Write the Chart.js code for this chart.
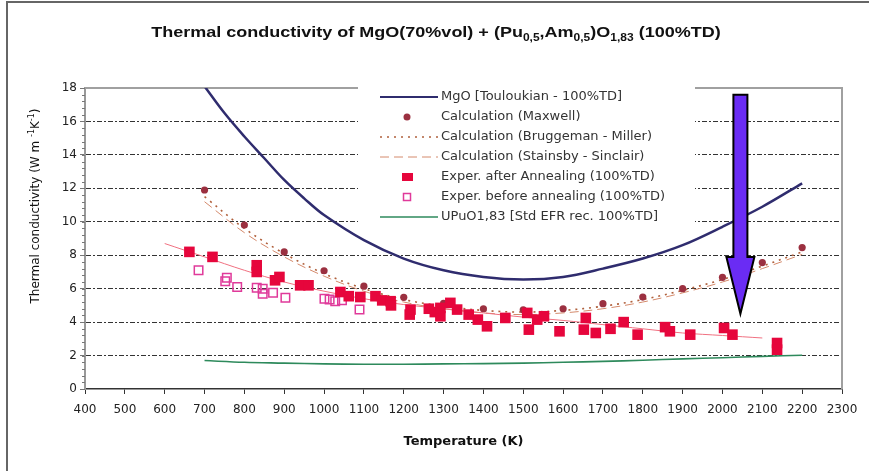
<!DOCTYPE html>
<html>
<head>
<meta charset="utf-8">
<script src="https://cdn.jsdelivr.net/npm/chart.js@4"></script>
<style>
  body { margin: 0; background: #fff; }
  #wrap { position: relative; width: 869px; height: 471px; overflow: hidden; }
  #frame { position: absolute; left: 6px; top: 1px; width: 900px; height: 500px; border-left: 2px solid #666; border-top: 2px solid #666; }
  #title { position: absolute; left: 436px; top: 23px; transform: translateX(-50%) scaleX(1.2); white-space: nowrap; font: bold 15px "Liberation Sans", Arial, sans-serif; color: #111; }
  #title sub { font-size: 10px; }
  #ytitle { position: absolute; left: 34px; top: 206px; transform: translate(-50%, -50%) rotate(-90deg); white-space: nowrap; font: 12px "DejaVu Sans"; color: #111; }
  #ytitle sup { font-size: 8px; }
  canvas { position: absolute; left: 0; top: 0; }
</style>
</head>
<body>
<div id="wrap">
  <canvas id="c" width="869" height="471"></canvas>
  <div id="frame"></div>
  <div id="title">Thermal conductivity of MgO(70%vol) + (Pu<sub>0,5</sub>,Am<sub>0,5</sub>)O<sub>1,83</sub> (100%TD)</div>
  <div id="ytitle">Thermal conductivity (W m <sup>-1</sup>K<sup>-1</sup>)</div>
</div>
<script>
// MgO [Touloukian]
const mgoT = [700, 750, 800, 850, 900, 950, 1000, 1100, 1200, 1300, 1400, 1500, 1600, 1700, 1800, 1900, 2000, 2100, 2200];
const mgoK = [18.1, 16.5, 15.1, 13.8, 12.5, 11.4, 10.4, 8.9, 7.8, 7.1, 6.7, 6.55, 6.7, 7.2, 7.8, 8.6, 9.7, 10.9, 12.3];

// calculations, every 100 K
const calcT = [700, 800, 900, 1000, 1100, 1200, 1300, 1400, 1500, 1600, 1700, 1800, 1900, 2000, 2100, 2200];
const maxwellK = [11.9, 9.8, 8.2, 7.07, 6.15, 5.48, 5.12, 4.8, 4.74, 4.8, 5.1, 5.5, 6.0, 6.68, 7.56, 8.46];
const bruggemanK = [11.5, 9.6, 8.1, 6.9, 6.0, 5.35, 4.95, 4.7, 4.6, 4.7, 4.95, 5.35, 5.9, 6.55, 7.35, 8.2];
const stainsbyK = [11.2, 9.35, 7.9, 6.75, 5.85, 5.2, 4.8, 4.55, 4.45, 4.55, 4.8, 5.2, 5.75, 6.4, 7.2, 8.05];

// experiment after annealing
const afterT = [662, 720, 831, 831, 877, 888, 940, 961, 1041, 1062, 1091, 1129, 1146, 1167, 1168, 1215, 1217, 1263, 1278, 1292, 1292, 1317, 1334, 1363, 1386, 1409, 1455, 1510, 1514, 1535, 1552, 1591, 1652, 1657, 1682, 1719, 1752, 1787, 1856, 1868, 1919, 2004, 2025, 2137, 2137];
const afterK = [8.2, 7.9, 7.4, 7.0, 6.5, 6.7, 6.2, 6.2, 5.8, 5.55, 5.5, 5.55, 5.3, 5.25, 5.0, 4.45, 4.75, 4.8, 4.6, 4.35, 4.85, 5.15, 4.75, 4.45, 4.15, 3.75, 4.25, 4.55, 3.55, 4.15, 4.35, 3.45, 3.55, 4.25, 3.35, 3.6, 4.0, 3.25, 3.7, 3.45, 3.25, 3.65, 3.25, 2.75, 2.35];

// trend line through the annealed data
const fitT = [600, 700, 800, 900, 1000, 1100, 1200, 1300, 1400, 1500, 1600, 1700, 1800, 1900, 2000, 2100];
const fitK = [8.7, 7.9, 7.1, 6.4, 5.85, 5.4, 5.05, 4.8, 4.55, 4.3, 4.1, 3.85, 3.6, 3.35, 3.2, 3.05];

// experiment before annealing
const beforeT = [685, 752, 756, 782, 831, 846, 846, 872, 903, 1001, 1014, 1028, 1045, 1089];
const beforeK = [7.1, 6.45, 6.65, 6.1, 6.05, 6.0, 5.7, 5.75, 5.45, 5.4, 5.35, 5.25, 5.3, 4.75];

// UPuO1,83
const upuoT = [700, 800, 900, 1000, 1100, 1200, 1300, 1400, 1500, 1600, 1700, 1800, 1900, 2000, 2100, 2200];
const upuoK = [1.7, 1.6, 1.55, 1.5, 1.48, 1.48, 1.5, 1.52, 1.55, 1.6, 1.65, 1.72, 1.8, 1.87, 1.95, 2.02];

// the arrow drawn over the chart (data units)
const arrowT = 2045, arrowTop = 17.6, arrowHead = 7.9, arrowTip = 4.5;

const pts = (xs, ys) => xs.map((x, i) => ({ x: x, y: ys[i] }));

const lineDs = (label, data, color, width, dash, order) => ({
  label, data, borderColor: color, borderWidth: width, borderDash: dash,
  pointRadius: 0, fill: false, tension: 0.35, order
});

const datasets = [
  lineDs('MgO [Touloukian - 100%TD]', pts(mgoT, mgoK), '#2f2c6e', 2.5, [], 5),
  { label: 'Calculation (Maxwell)', data: pts(calcT, maxwellK), showLine: false, pointStyle: 'circle',
    pointRadius: 3.6, pointBackgroundColor: '#9b3040', pointBorderColor: '#9b3040', pointBorderWidth: 0, order: 2 },
  lineDs('Calculation (Bruggeman - Miller)', pts(calcT, bruggemanK), '#b0603c', 1.6, [2, 5], 4),
  lineDs('Calculation (Stainsby - Sinclair)', pts(calcT, stainsbyK), '#d48a6c', 1, [9, 5], 4),
  { label: 'Exper. after Annealing (100%TD)', data: pts(afterT, afterK), showLine: false, pointStyle: 'rect',
    pointRadius: 7.5, pointBackgroundColor: '#e6063c', pointBorderColor: '#e6063c', pointBorderWidth: 0, order: 0 },
  { label: 'Exper. before annealing (100%TD)', data: pts(beforeT, beforeK), showLine: false, pointStyle: 'rect',
    pointRadius: 6, pointBackgroundColor: 'rgba(255,255,255,0)', pointBorderColor: '#e03a9a', pointBorderWidth: 1.5, order: 1 },
  lineDs('UPuO1,83 [Std EFR rec. 100%TD]', pts(upuoT, upuoK), '#2e8a5c', 1.6, [], 5),
  Object.assign(lineDs('fit', pts(fitT, fitK), '#f07080', 1, [], 3), { noLegend: true })
];

const legendBox = {
  id: 'legendBox',
  afterDraw(chart) {
    const ctx = chart.ctx;
    ctx.save();
    ctx.fillStyle = '#fff';
    ctx.fillRect(358, 82, 337, 146);
    let row = 0;
    chart.data.datasets.forEach(ds => {
      if (ds.noLegend) return;
      const y = 97 + row * 20;
      row++;
      if (ds.showLine === false) {
        const cx = 407;
        ctx.setLineDash([]);
        if (ds.pointStyle === 'circle') {
          ctx.fillStyle = ds.pointBackgroundColor;
          ctx.beginPath(); ctx.arc(cx, y, 3.5, 0, Math.PI * 2); ctx.fill();
        } else if (ds.pointBorderWidth === 0) {
          ctx.fillStyle = ds.pointBackgroundColor;
          ctx.fillRect(cx - 5, y - 4, 11, 8);
        } else {
          ctx.strokeStyle = ds.pointBorderColor; ctx.lineWidth = 1.5;
          ctx.strokeRect(cx - 3.5, y - 3.5, 7, 7);
        }
      } else {
        ctx.strokeStyle = ds.borderColor;
        ctx.lineWidth = Math.min(ds.borderWidth, 2);
        ctx.setLineDash(ds.borderDash);
        ctx.beginPath(); ctx.moveTo(380, y); ctx.lineTo(438, y); ctx.stroke();
      }
      ctx.setLineDash([]);
      ctx.fillStyle = '#333';
      ctx.font = '13px "DejaVu Sans"';
      ctx.textBaseline = 'middle';
      ctx.fillText(ds.label, 441, y);
    });
    ctx.restore();
  }
};

const frameLines = {
  id: 'frameLines',
  beforeDatasetsDraw(chart) {
    const { ctx, chartArea: a, scales: { y } } = chart;
    ctx.save();
    ctx.strokeStyle = '#a0a0a0';
    ctx.lineWidth = 2;
    ctx.beginPath();
    ctx.moveTo(a.left, a.top); ctx.lineTo(a.right, a.top); ctx.lineTo(a.right, a.bottom);
    ctx.stroke();
    // minor ticks on the y axis
    ctx.strokeStyle = '#777';
    ctx.lineWidth = 1;
    for (let v = 0; v <= 18.001; v += 0.4) {
      const py = Math.round(y.getPixelForValue(v)) + 0.5;
      ctx.beginPath(); ctx.moveTo(a.left - 3, py); ctx.lineTo(a.left, py); ctx.stroke();
    }
    ctx.restore();
  }
};

const arrow = {
  id: 'arrow',
  afterDraw(chart) {
    const { ctx, scales: { x, y } } = chart;
    const cx = x.getPixelForValue(arrowT);
    const top = y.getPixelForValue(arrowTop);
    const head = y.getPixelForValue(arrowHead);
    const tip = y.getPixelForValue(arrowTip);
    ctx.save();
    ctx.beginPath();
    ctx.moveTo(cx - 7, top); ctx.lineTo(cx + 7, top); ctx.lineTo(cx + 7, head);
    ctx.lineTo(cx + 14, head); ctx.lineTo(cx, tip); ctx.lineTo(cx - 14, head);
    ctx.lineTo(cx - 7, head); ctx.closePath();
    ctx.fillStyle = '#6a2cf4';
    ctx.fill();
    ctx.strokeStyle = '#000';
    ctx.lineWidth = 2;
    ctx.lineJoin = 'miter';
    ctx.stroke();
    ctx.restore();
  }
};

new Chart(document.getElementById('c'), {
  type: 'line',
  data: { datasets },
  options: {
    responsive: false,
    animation: false,
    layout: { padding: { left: 25, right: 27, top: 88, bottom: 22 } },
    plugins: { legend: { display: false }, tooltip: { enabled: false } },
    scales: {
      x: {
        type: 'linear', min: 400, max: 2300,
        afterFit: s => { s.height = 60; },
        ticks: { stepSize: 100, autoSkip: false, maxRotation: 0, padding: 9, color: '#222',
          font: { family: 'DejaVu Sans', size: 12 }, callback: v => String(v) },
        grid: { drawOnChartArea: false, drawTicks: true, tickLength: 5, tickColor: '#333' },
        border: { color: '#333', width: 1.5 },
        title: { display: true, text: 'Temperature (K)', color: '#111', padding: { top: 0, bottom: 0 },
          font: { family: 'DejaVu Sans', size: 13, weight: 'bold' } }
      },
      y: {
        min: 0, max: 18,
        afterFit: s => { s.width = 60; },
        ticks: { stepSize: 2, padding: 3, color: '#222', font: { family: 'DejaVu Sans', size: 12 } },
        grid: {
          color: c => (c.tick && (c.tick.value === 0 || c.tick.value === 18)) ? 'rgba(0,0,0,0)' : '#333',
          lineWidth: 1, drawTicks: true, tickLength: 5, tickColor: '#777', tickBorderDash: []
        },
        border: { color: '#999', width: 2, dash: [5, 2, 2, 2] }
      }
    }
  },
  plugins: [frameLines, legendBox, arrow]
});
</script>
</body>
</html>
